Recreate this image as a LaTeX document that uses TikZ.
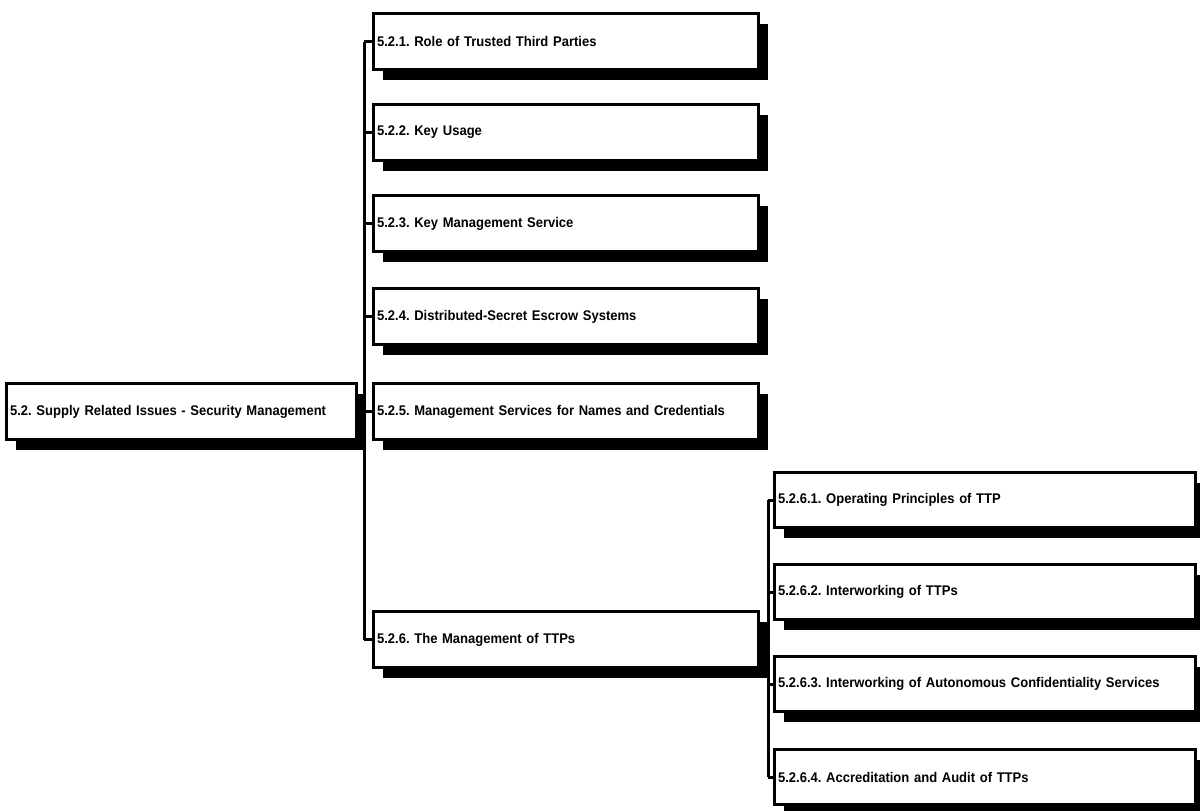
\documentclass[tikz,border=0pt]{standalone}
\usepackage{fontspec}
\setmainfont{Liberation Sans}[FakeStretch=0.93]
\usetikzlibrary{shadows}
\frenchspacing
\begin{document}
\begin{tikzpicture}[x=0.5pt,y=-0.5pt,
  box/.style={draw=black, line width=1.5pt, fill=white, anchor=north west,
    inner xsep=1.8pt, inner ysep=0pt, align=left,
    font=\bfseries\fontsize{7}{8}\selectfont,
    drop shadow={shadow xshift=4.5pt, shadow yshift=-5pt, fill=black, opacity=1}},
  rootbox/.style={box, text width=171.4pt, minimum height=28pt},
  lvlone/.style={box, text width=188.9pt, minimum height=28pt},
  lvltwo/.style={box, text width=206.9pt, minimum height=27.5pt},
  conn/.style={line width=1.5pt}]
\useasboundingbox (0,0) rectangle (1200,810);

% root
\node[rootbox] (root) at (5,382) {5.2. Supply Related Issues - Security Management};

% first level
\node[lvlone] (n521) at (372,12)  {5.2.1. Role of Trusted Third Parties};
\node[lvlone] (n522) at (372,103) {5.2.2. Key Usage};
\node[lvlone] (n523) at (372,194) {5.2.3. Key Management Service};
\node[lvlone] (n524) at (372,287) {5.2.4. Distributed-Secret Escrow Systems};
\node[lvlone] (n525) at (372,382) {5.2.5. Management Services for Names and Credentials};
\node[lvlone] (n526) at (372,610) {5.2.6. The Management of TTPs};

% second level
\node[lvltwo] (n5261) at (773,471) {5.2.6.1. Operating Principles of TTP};
\node[lvltwo] (n5262) at (773,563) {5.2.6.2. Interworking of TTPs};
\node[lvltwo] (n5263) at (773,655) {5.2.6.3. Interworking of Autonomous Confidentiality Services};
\node[lvltwo] (n5264) at (773,748) {5.2.6.4. Accreditation and Audit of TTPs};

% trunk positions
\coordinate (ta) at (364,0);
\coordinate (tb) at (768,0);

% first-level connectors
\draw[conn] (root.east) -- (root.east -| ta);
\draw[conn] (n521.west -| ta) -- (n526.west -| ta);
\foreach \n in {n521,n522,n523,n524,n525,n526}
  \draw[conn] (\n.west -| ta) -- (\n.west);

% second-level connectors
\draw[conn] (n526.east) -- (n526.east -| tb);
\draw[conn] (n5261.west -| tb) -- (n5264.west -| tb);
\foreach \n in {n5261,n5262,n5263,n5264}
  \draw[conn] (\n.west -| tb) -- (\n.west);
\end{tikzpicture}
\end{document}
